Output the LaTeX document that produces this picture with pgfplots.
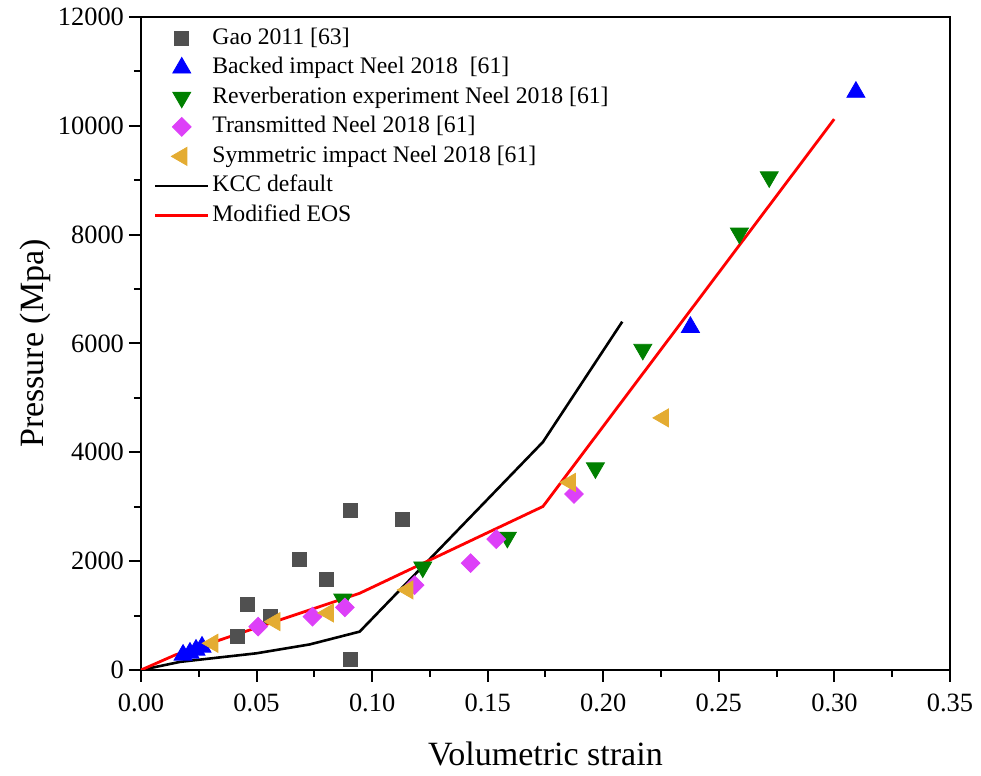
\documentclass[border=0pt]{standalone}
\usepackage{pgfplots}
\pgfplotsset{compat=1.18}
\usepackage{fontspec}
\setmainfont{Liberation Serif}

\definecolor{gaogray}{RGB}{80,80,80}
\definecolor{backblue}{RGB}{0,0,255}
\definecolor{revgreen}{RGB}{0,128,0}
\definecolor{transmag}{RGB}{221,64,248}
\definecolor{symorange}{RGB}{228,172,50}

% wider legend samples, mark in the middle
\pgfplotsset{
  legend image code/.code={
    \draw[mark repeat=2, mark phase=2, #1]
      plot coordinates {(0pt,0pt) (13.25pt,0pt) (26.5pt,0pt)};
  }
}

\begin{document}
\begin{tikzpicture}
\path[use as bounding box] (-70.5pt,-53pt) rectangle (420pt,335pt);
\begin{axis}[
  scale only axis,
  width=404.5pt, height=326.5pt,
  xmin=0, xmax=0.35, ymin=0, ymax=12000,
  xtick={0,0.05,...,0.35},
  ytick={0,2000,...,12000},
  minor x tick num=1, minor y tick num=1,
  xtick pos=left, ytick pos=left,
  tick align=outside,
  major tick length=6pt, minor tick length=3.5pt,
  every tick/.style={line width=1pt, black},
  axis line style={line width=1pt},
  /pgf/number format/assume math mode=true,
  x tick label style={yshift=-2.5pt, /pgf/number format/.cd, fixed, fixed zerofill, precision=2},
  y tick label style={xshift=1pt, /pgf/number format/.cd, fixed, 1000 sep={}},
  ticklabel style={font=\fontsize{13.2}{15}\selectfont},
  scaled x ticks=false, scaled y ticks=false,
  xlabel={Volumetric strain},
  ylabel={Pressure (Mpa)},
  label style={font=\fontsize{17}{20}\selectfont},
  xlabel style={at={(axis description cs:0.5,-0.1457)}, anchor=base},
  ylabel style={at={(axis description cs:-0.121,0.5)}, anchor=base},
  legend cell align=left,
  legend style={draw=none, fill=none,
    at={(axis description cs:0.008,0.9966)}, anchor=north west,
    font=\fontsize{11.85}{14}\selectfont,
    row sep=0pt,
    nodes={inner sep=1.375pt, text height=9pt, text depth=3pt}},
]
% experimental data
\addplot[only marks, mark=square*, mark size=3.5pt, color=gaogray]
  coordinates {
  (0.0906,2932) (0.1129,2761) (0.0684,2037) (0.0800,1669)
  (0.0461,1209) (0.0559,981) (0.0418,613) (0.0906,202)
  };
\addlegendentry{Gao 2011 [63]}

\addplot[only marks, mark=triangle*, mark size=5.2pt, color=backblue]
  coordinates {
  (0.0182,276) (0.0212,313) (0.0238,368) (0.0264,423)
  (0.2377,6300) (0.3093,10620)
  };
\addlegendentry{Backed impact Neel 2018\ \ [61]}

\addplot[only marks, mark=triangle*, mark size=5.2pt, mark options={rotate=180}, color=revgreen]
  coordinates {
  (0.0873,1300) (0.1219,1890) (0.1585,2436) (0.1966,3712)
  (0.2171,5890) (0.2589,8025) (0.2718,9060)
  };
\addlegendentry{Reverberation experiment Neel 2018 [61]}

\addplot[only marks, mark=square*, mark size=3.3pt, mark options={rotate=45}, color=transmag]
  coordinates {
  (0.0507,797) (0.0742,981) (0.0882,1150) (0.1184,1560)
  (0.1426,1964) (0.1537,2405) (0.1873,3234)
  };
\addlegendentry{Transmitted Neel 2018 [61]}

\addplot[only marks, mark=triangle*, mark size=5.2pt, mark options={rotate=90}, color=symorange]
  coordinates {
  (0.0310,491) (0.0579,889) (0.0810,1049) (0.1154,1472)
  (0.1857,3447) (0.2260,4633)
  };
\addlegendentry{Symmetric impact Neel 2018 [61]}

% model curves
\addplot[black, line width=1.3pt, mark=none]
  coordinates {
  (0,0) (0.017,150) (0.05,307) (0.073,470) (0.0946,705)
  (0.1739,4190) (0.2082,6400)
  };
\addlegendentry{KCC default}

\addplot[red, line width=1.4pt, mark=none]
  coordinates {
  (0,0) (0.015,280) (0.0946,1410) (0.1739,3005) (0.2999,10123)
  };
\addlegendentry{Modified EOS}
\end{axis}
\end{tikzpicture}
\end{document}
